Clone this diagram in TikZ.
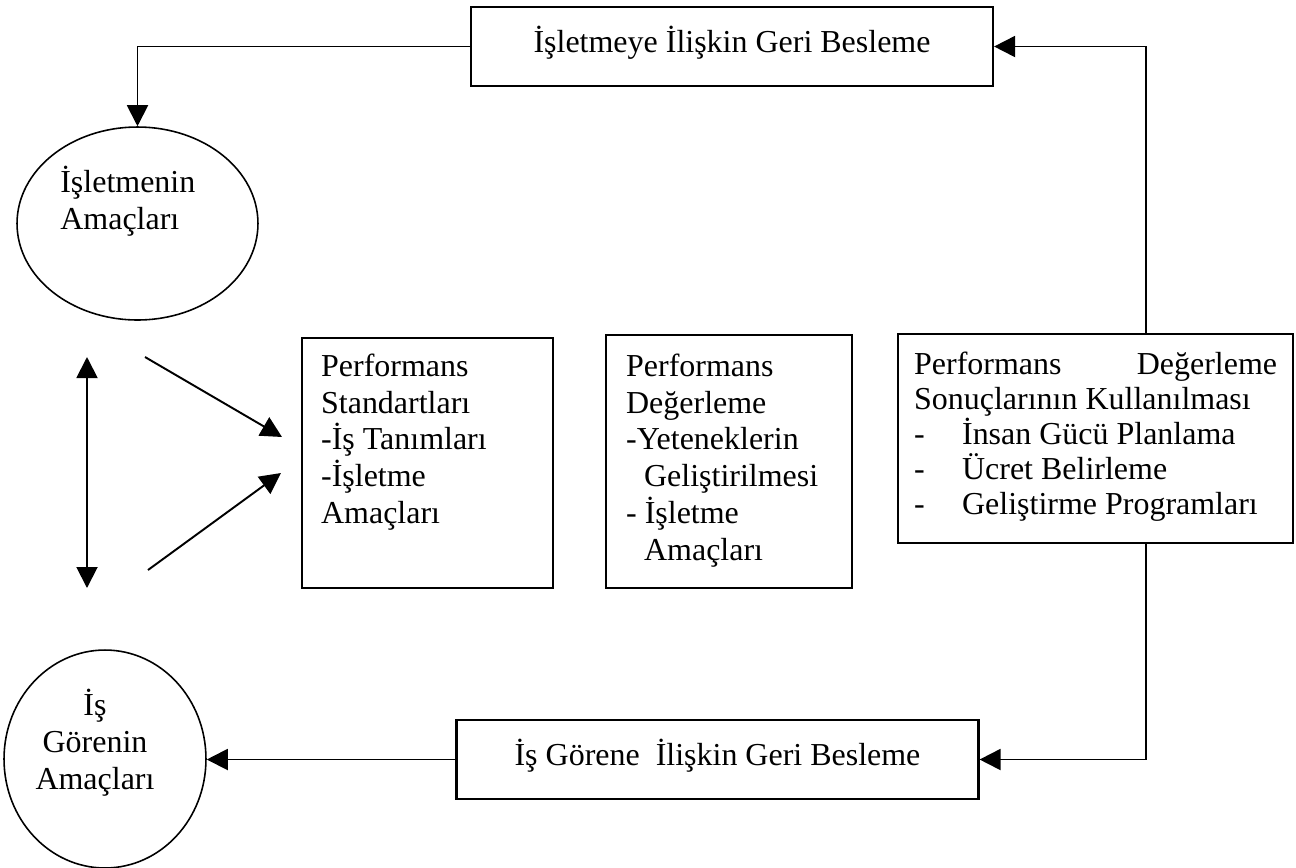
\documentclass[tikz,border=0pt]{standalone}
\usepackage{fontspec}
\setmainfont{Liberation Serif}
\usepackage{tikz}
\usetikzlibrary{arrows.meta,shapes.geometric}

\begin{document}
\begin{tikzpicture}[
        x=0.02cm, y=-0.02cm,
        font=\fontsize{18.2}{21}\selectfont,
        kutu/.style={draw, line width=1.3pt, rectangle, inner sep=0pt},
        geri/.style={kutu, minimum width=10.44cm, minimum height=1.58cm, text depth=0.3cm},
        liste/.style={kutu, anchor=north west, align=flush left, inner ysep=0.3cm},
        hedef/.style={draw, ellipse, line width=0.9pt, inner sep=0pt},
        ok/.style={line width=1.1pt, -{Triangle[length=0.42cm,width=0.42cm]}},
        ciftok/.style={line width=1.1pt, {Triangle[length=0.42cm,width=0.42cm]}-{Triangle[length=0.42cm,width=0.42cm]}}
    ]
    \useasboundingbox (0, 0) rectangle (1296, 867);
    \node[geri] (gbIsletme) at (732, 46.5) {İşletmeye İlişkin Geri Besleme};
    \node[geri] (gbIsgoren) at (717.5, 759.5) {İş Görene\ \ İlişkin Geri Besleme};
    \node[hedef, minimum width=4.82cm, minimum height=3.86cm] (amacIsletme) at (137.5, 223.5) {};
    \node[hedef, minimum width=4.04cm, minimum height=4.36cm] (amacIsgoren) at (105, 759) {};
    \node[anchor=west, align=left, inner sep=0pt] (yaziIsletme) at (60, 201) {İşletmenin\\Amaçları};
    \node[align=center, inner sep=0pt] (yaziIsgoren) at (95, 743) {İş\\Görenin\\Amaçları};
    \node[liste, inner xsep=0.38cm, text width=4.26cm, text height=0.46cm, text depth=3.94cm] (standart) at (301, 337)
        {Performans\\Standartları\\-İş Tanımları\\-İşletme\\Amaçları};
    \node[liste, inner xsep=0.4cm, text width=4.12cm, text height=0.52cm, text depth=3.94cm] (degerleme) at (605, 334)
        {Performans\\Değerleme\\-Yeteneklerin\\\hspace*{0.36cm}Geliştirilmesi\\- İşletme\\\hspace*{0.36cm}Amaçları};
    \node[liste, inner xsep=0.32cm, text width=7.26cm, text height=0.5cm, text depth=3.08cm,
          font=\fontsize{18.2}{20}\selectfont] (sonuc) at (897, 333)
        {Performans \hfill Değerleme\\Sonuçlarının Kullanılması\\\makebox[0.96cm][l]{-}İnsan Gücü Planlama\\\makebox[0.96cm][l]{-}Ücret Belirleme\\\makebox[0.96cm][l]{-}Geliştirme Programları};
    \coordinate (donus) at (1146, 0);
    \coordinate (cUst) at (87, 357);
    \coordinate (cAlt) at (87, 588);
    \coordinate (d1a) at (145, 357);
    \coordinate (d1b) at (282, 437);
    \coordinate (d2a) at (148, 570);
    \coordinate (d2b) at (281, 473);
    \draw[ok] (sonuc.north -| donus) |- (gbIsletme.east);
    \draw[ok] (sonuc.south -| donus) |- (gbIsgoren.east);
    \draw[ok] (gbIsletme.west) -| (amacIsletme.north);
    \draw[ok] (gbIsgoren.west) -- (gbIsgoren.west -| amacIsgoren.east);
    \draw[ciftok] (cUst) -- (cAlt);
    \draw[ok] (d1a) -- (d1b);
    \draw[ok] (d2a) -- (d2b);
\end{tikzpicture}
\end{document}
